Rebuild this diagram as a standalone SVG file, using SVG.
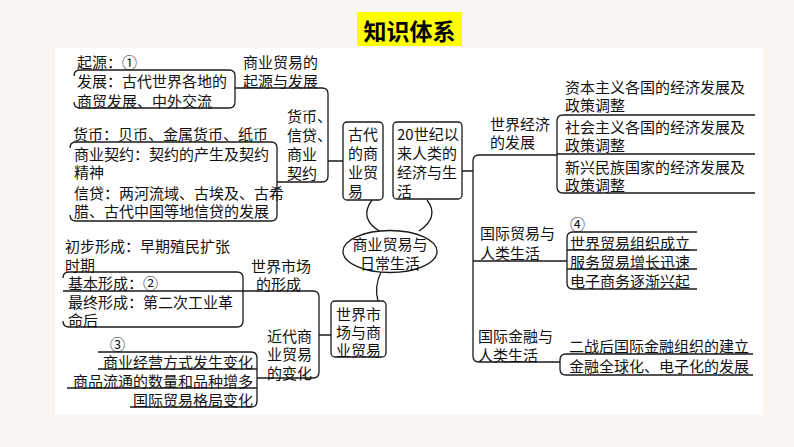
<svg xmlns="http://www.w3.org/2000/svg" width="794" height="447" viewBox="0 0 794 447">
<style>
text{font-family:"Noto Sans CJK SC","Noto Sans CJK JP",sans-serif;font-size:15px;fill:#111;dominant-baseline:central}
.ln{fill:none;stroke:#1a1a1a;stroke-width:1.3}
.box{fill:#fff;stroke:#1a1a1a;stroke-width:1.3}
.e{text-anchor:end}
</style>
<rect x="0" y="0" width="794" height="447" fill="#f9f5f1"/>
<rect x="55" y="48" width="708" height="367" fill="#fff"/>
<g id="title">
<rect x="357" y="12" width="105" height="34" fill="#ffff00"/>
<text x="409.5" y="29.5" style="font-size:23px;font-weight:bold;text-anchor:middle;fill:#000">知识体系</text>
</g>
<g id="connectors">
<path class="ln" d="M235,88 H322 Q328,88 328,94 V176 Q328,182 322,182 H277 M328,161 H343"/>
<path class="ln" d="M63,291 H313 Q319,291 319,297 V372 Q319,378 313,378 H257 M319,335 H331"/>
<path class="ln" d="M557,155 H479 Q473,155 473,161 V356 Q473,362 479,362 H560 M473,261 H567 M462,171 H473"/>
<path class="ln" d="M372,200 Q358,219 381,232 M427,200 Q440,217 419,231"/>
<path class="ln" d="M381,272 Q374,287 378,301"/>
</g>
<g id="origin">
<text x="77" y="61">起源：①</text>
<path class="ln" d="M74,76 Q74,70 80,70 H229 Q235,70 235,76 V102 Q235,108 229,108 H80 Q74,108 74,102"/>
<text x="77" y="80">发展：古代世界各地的</text>
<text x="77" y="100">商贸发展、中外交流</text>
<text x="243" y="61">商业贸易的</text>
<text x="243" y="80">起源与发展</text>
</g>
<g id="money">
<text x="73" y="133">货币：贝币、金属货币、纸币</text>
<path class="ln" d="M70,148 Q70,142 76,142 H271 Q277,142 277,148 V215 Q277,221 271,221 H76 Q70,221 70,215"/>
<text x="74" y="153">商业契约：契约的产生及契约</text>
<text x="74" y="171">精神</text>
<text x="74" y="192">信贷：两河流域、古埃及、古希</text>
<text x="74" y="210">腊、古代中国等地信贷的发展</text>
<text x="287" y="115">货币、</text>
<text x="287" y="134">信贷、</text>
<text x="287" y="153">商业</text>
<text x="287" y="172">契约</text>
</g>
<g id="ancient">
<rect class="box" x="343" y="122" width="40" height="78" rx="4"/>
<text x="348" y="133">古代</text>
<text x="348" y="152">的商</text>
<text x="348" y="171">业贸</text>
<text x="348" y="190">易</text>
</g>
<g id="modern20">
<rect class="box" x="393" y="122" width="69" height="77" rx="4"/>
<text x="397" y="133">20世纪以</text>
<text x="397" y="152">来人类的</text>
<text x="397" y="171">经济与生</text>
<text x="397" y="190">活</text>
</g>
<g id="center">
<ellipse class="box" cx="390" cy="251.5" rx="47" ry="21"/>
<text x="390" y="243" style="text-anchor:middle">商业贸易与</text>
<text x="390" y="262" style="text-anchor:middle">日常生活</text>
</g>
<g id="worldmarket">
<rect class="box" x="331" y="301" width="55" height="56" rx="4"/>
<text x="336" y="313">世界市</text>
<text x="336" y="331">场与商</text>
<text x="336" y="349">业贸易</text>
</g>
<g id="formation">
<text x="65" y="245">初步形成：早期殖民扩张</text>
<text x="65" y="264">时期</text>
<path class="ln" d="M63,278 Q63,272 69,272 H237 Q243,272 243,278 V321 Q243,327 237,327 H69 Q63,327 63,321"/>
<text x="68" y="282">基本形成：②</text>
<text x="68" y="301">最终形成：第二次工业革</text>
<text x="68" y="319">命后</text>
<text x="251" y="265">世界市场</text>
<text x="256" y="283">的形成</text>
</g>
<g id="modernchange">
<text x="110" y="343">③</text>
<path class="ln" d="M98,352 H251 Q257,352 257,358 V401 Q257,407 251,407 H130 M98,369 H257 M67,388 H257"/>
<text class="e" x="253" y="361">商业经营方式发生变化</text>
<text class="e" x="253" y="380">商品流通的数量和品种增多</text>
<text class="e" x="253" y="399">国际贸易格局变化</text>
<text x="267" y="335">近代商</text>
<text x="267" y="353">业贸易</text>
<text x="267" y="372">的变化</text>
</g>
<g id="economy">
<text x="490" y="123">世界经济</text>
<text x="490" y="141">的发展</text>
<text x="565" y="86">资本主义各国的经济发展及</text>
<text x="565" y="104">政策调整</text>
<path class="ln" d="M755,115 H563 Q557,115 557,121 V187 Q557,193 563,193 H755 M557,154 H755"/>
<text x="565" y="126">社会主义各国的经济发展及</text>
<text x="565" y="144">政策调整</text>
<text x="565" y="166">新兴民族国家的经济发展及</text>
<text x="565" y="184">政策调整</text>
</g>
<g id="trade">
<text x="480" y="232">国际贸易与</text>
<text x="480" y="252">人类生活</text>
<text x="570" y="223">④</text>
<path class="ln" d="M697,232 H573 Q567,232 567,238 V283 Q567,289 573,289 H697 M567,250 H697 M567,269 H697"/>
<text x="570" y="242">世界贸易组织成立</text>
<text x="570" y="261">服务贸易增长迅速</text>
<text x="570" y="280">电子商务逐渐兴起</text>
</g>
<g id="finance">
<text x="478" y="335">国际金融与</text>
<text x="478" y="354">人类生活</text>
<text x="569" y="345">二战后国际金融组织的建立</text>
<path class="ln" d="M753,354 H566 Q560,354 560,360 V369 Q560,375 566,375 H753"/>
<text x="569" y="365">金融全球化、电子化的发展</text>
</g>
</svg>
